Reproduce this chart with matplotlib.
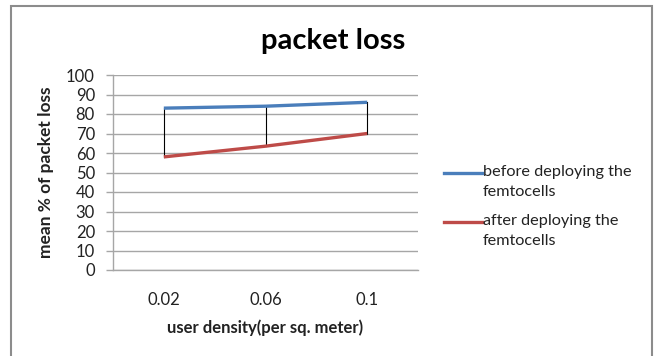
#!/usr/bin/env python3
# -*- coding: utf-8 -*-

import matplotlib
matplotlib.use('Agg')
import matplotlib.pyplot as plt
from matplotlib.lines import Line2D
from matplotlib.patches import Rectangle

# data
categories = ['0.02', '0.06', '0.1']
before = [83, 84, 86]
after = [58, 63.5, 70]
yticks = [0, 10, 20, 30, 40, 50, 60, 70, 80, 90, 100]
labels = ['before deploying the\nfemtocells', 'after deploying the\nfemtocells']

BLUE = '#4a7ebb'
RED = '#be4b48'
GRID = '#a6a6a6'
TXT = '#222222'

plt.rcParams['font.family'] = ['Lato', 'DejaVu Sans']


def main():
	fig = plt.figure(figsize=(6.59, 3.56), dpi=100)
	W, H = 659, 356

	# outer chart frame (bottom edge is cut off in the reference)
	fig.add_artist(Rectangle((11 / W, -0.05), 641 / W, 1 - 6 / H + 0.05, transform=fig.transFigure,
							 fill=False, edgecolor='#8c8c8c', linewidth=1.5))

	ax1 = fig.add_axes([113 / W, 1 - 270 / H, 305 / W, 195 / H])
	x = list(range(len(categories)))

	# hi-lo lines
	for xi, lo, hi in zip(x, after, before):
		ax1.plot([xi, xi], [lo, hi], color='black', linewidth=0.8, zorder=3)
	ax1.plot(x, before, color=BLUE, linewidth=2.4, solid_capstyle='butt', zorder=4)
	ax1.plot(x, after, color=RED, linewidth=2.4, solid_capstyle='butt', zorder=4)

	ax1.set_xlim(-0.5, len(categories) - 0.5)
	ax1.set_ylim(0, 100)
	ax1.set_yticks(yticks)
	ax1.set_yticklabels([str(v) for v in yticks], fontsize=12, color=TXT)
	ax1.set_xticks(x)
	ax1.set_xticklabels(categories, fontsize=12, color=TXT)
	ax1.tick_params(axis='y', length=5, color=GRID, width=1, pad=8)
	ax1.tick_params(axis='x', length=0, pad=16)
	ax1.grid(axis='y', color=GRID, linewidth=1)
	ax1.set_axisbelow(True)
	for s in ['top', 'right']:
		ax1.spines[s].set_visible(False)
	for s in ['left', 'bottom']:
		ax1.spines[s].set_color(GRID)
		ax1.spines[s].set_linewidth(1)

	ax1.set_xlabel('user density(per sq. meter)', fontsize=12, fontweight='bold', color=TXT)
	ax1.xaxis.set_label_coords(0.5, -(328 - 270) / 195)
	ax1.xaxis.label.set_va('center')
	ax1.set_ylabel('mean % of packet loss', fontsize=12.5, fontweight='bold', color=TXT)
	ax1.yaxis.set_label_coords(-(113 - 46) / 305, (270 - 172) / 195)
	ax1.yaxis.label.set_va('center')
	fig.text(333 / W, 1 - 41 / H, 'packet loss', fontsize=21, fontweight='bold',
			 ha='center', va='center', color='black')

	# legend drawn by hand so the handle sits on the first text line
	for i, (lbl, col) in enumerate(zip(labels, [BLUE, RED])):
		yy = 1 - (173 + 49 * i) / H
		fig.add_artist(Line2D([444 / W, 482 / W], [yy, yy], color=col, linewidth=2.4,
							  transform=fig.transFigure))
		fig.text(483 / W, yy + 8 / H, lbl, fontsize=11.7, ha='left', va='top',
				 color=TXT, linespacing=1.55)

	fig.savefig('out.png', dpi=100)


if __name__ == '__main__':
	main()
